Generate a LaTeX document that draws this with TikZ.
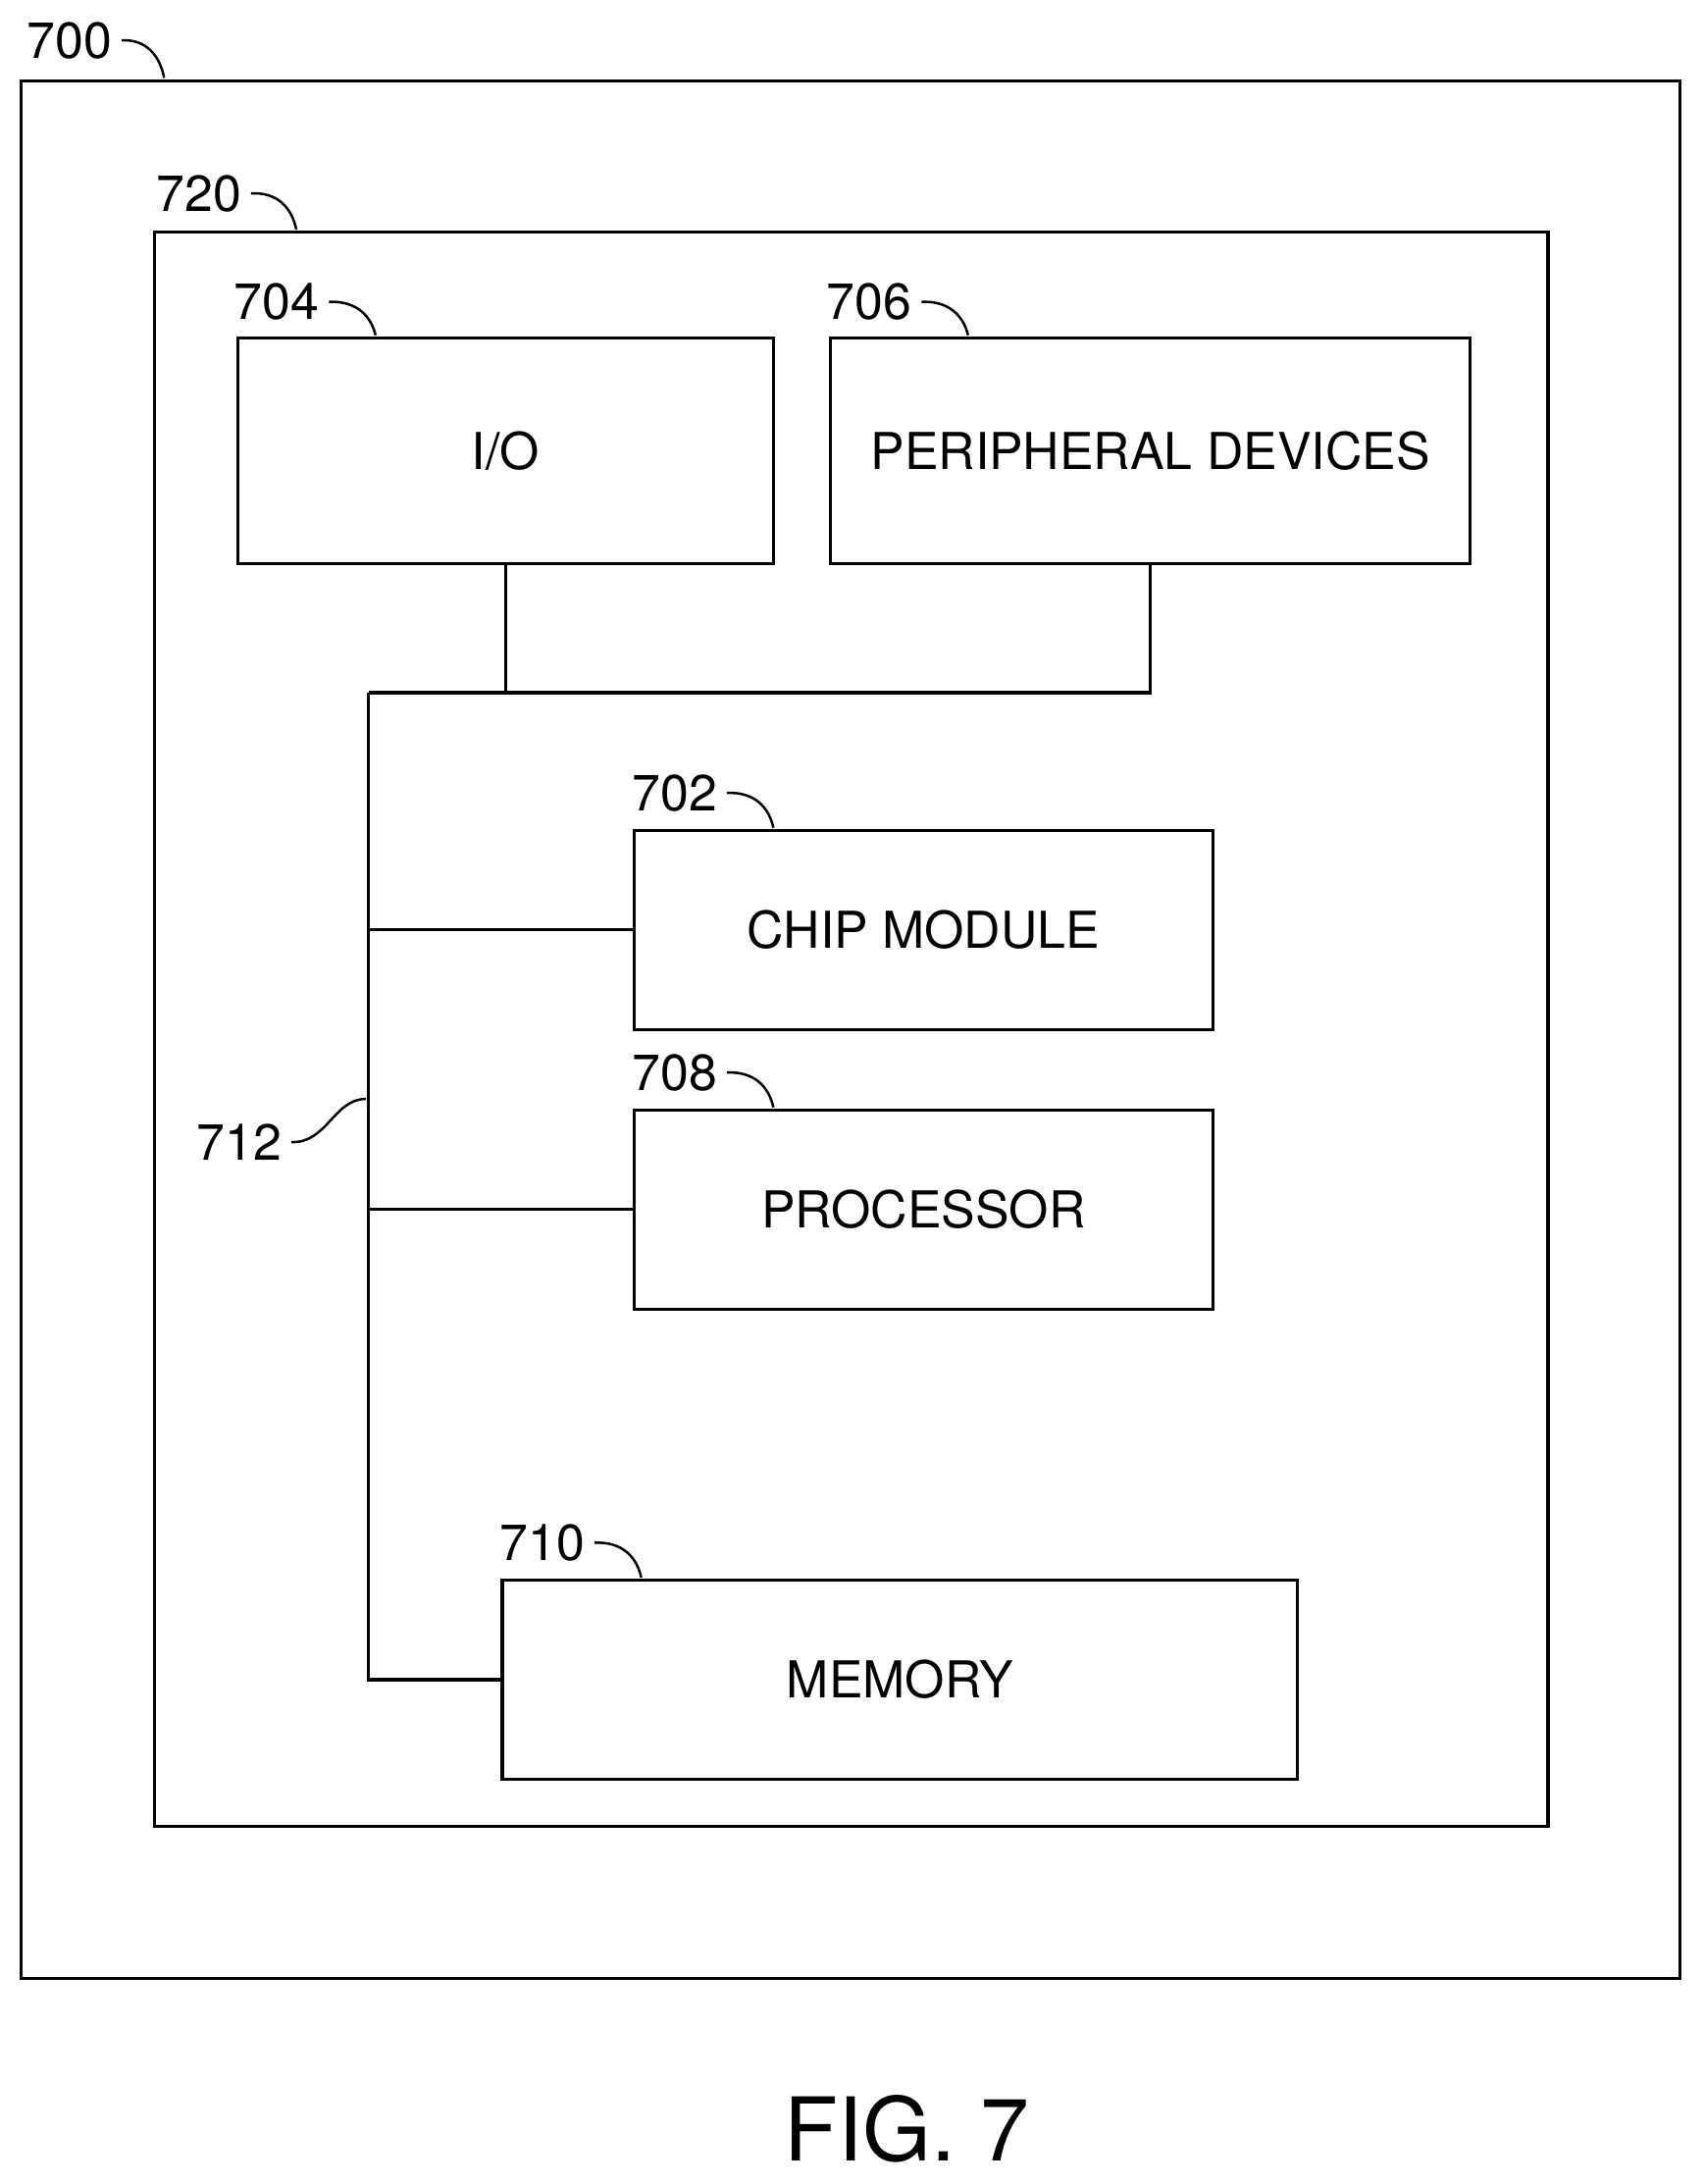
\documentclass[tikz,border=0pt]{standalone}
\usepackage{fontspec}
\setmainfont{TeX Gyre Heros}
\begin{document}
\begin{tikzpicture}[x=0.02cm,y=-0.02cm,line width=1.3pt,
	blk/.style={draw,inner sep=0pt,font=\fontsize{20.8}{25}\selectfont},
	ref/.style={font=\fontsize{20.8}{25}\selectfont}]
	\useasboundingbox (0,0) rectangle (1225,1570);
	\draw (15,58) rectangle (1208,1422);
	\draw (111,167) rectangle (1113,1313);
	
	\node[blk,minimum width=7.7cm,minimum height=3.24cm] (io) at (363.5,324) {I/O};
	\node[blk,minimum width=9.2cm,minimum height=3.24cm] (periph) at (827,324) {PERIPHERAL DEVICES};
	\node[blk,minimum width=8.32cm,minimum height=2.86cm] (chip) at (664,668.5) {CHIP MODULE};
	\node[blk,minimum width=8.32cm,minimum height=2.86cm] (proc) at (664,869.5) {PROCESSOR};
	\node[blk,minimum width=11.44cm,minimum height=2.86cm] (mem) at (647,1207.5) {MEMORY};
	
	\coordinate (busT) at (265,498);
	\draw (io.south) -- (io.south |- busT);
	\draw (busT) -| (periph.south);
	\draw (busT) |- (mem.west);
	\draw (chip.west) -- (chip.west -| busT);
	\draw (proc.west) -- (proc.west -| busT);
	
	% reference labels
	\node[ref] (l700) at (50,29) {700};
	\node[ref] (l720) at (143,139) {720};
	\node[ref] (l704) at (199,217) {704};
	\node[ref] (l706) at (625,217) {706};
	\node[ref] (l702) at (485,570) {702};
	\node[ref] (l708) at (485,771) {708};
	\node[ref] (l710) at (390,1109) {710};
	\node[ref] (l712) at (172,821) {712};
	\draw[line width=1pt] (l700.east) .. controls (105,28) and (115,40) .. (118,56);
	\draw[line width=1pt] (l720.east) .. controls (200,138) and (210,150) .. (213,165);
	\draw[line width=1pt] (l704.east) .. controls (257,216) and (267,228) .. (270,241);
	\draw[line width=1pt] (l706.east) .. controls (683,216) and (693,228) .. (696,241);
	\draw[line width=1pt] (l702.east) .. controls (543,569) and (553,581) .. (556,595);
	\draw[line width=1pt] (l708.east) .. controls (543,770) and (553,782) .. (556,796);
	\draw[line width=1pt] (l710.east) .. controls (448,1108) and (458,1120) .. (461,1134);
	\draw[line width=1pt] (l712.east) .. controls (235,822) and (240,790) .. (263,790);
	
	\node[font=\fontsize{36}{43}\selectfont] (fig) at (652,1530) {FIG. 7};
\end{tikzpicture}
\end{document}
